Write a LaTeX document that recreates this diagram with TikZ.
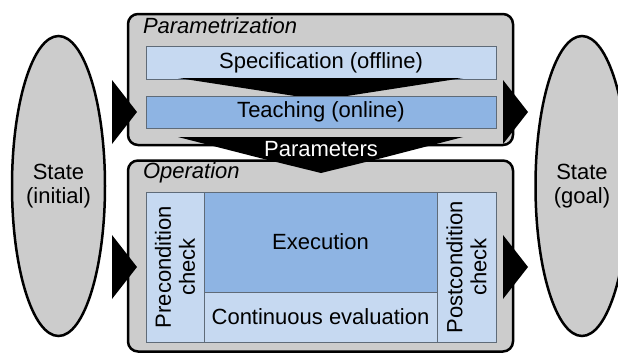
\documentclass[tikz,border=0pt]{standalone}
\usepackage{fontspec}
\setmainfont{Liberation Sans}
\usepackage{tikz}
\usetikzlibrary{shapes.geometric}
\definecolor{boxgray}{HTML}{CCCCCC}
\definecolor{lightblue}{HTML}{C6D9F1}
\definecolor{midblue}{HTML}{8EB4E3}
\definecolor{framegray}{HTML}{5F6B78}
\begin{document}
\begin{tikzpicture}
[x=1pt,y=-1pt,every node/.style={font=\fontsize{22}{24}\selectfont,inner sep=0pt,outer sep=0pt},
 phase/.style={draw=black,line width=2.5pt,fill=boxgray,rounded corners=10pt,minimum width=385pt},
 state/.style={ellipse,draw=black,line width=2.5pt,fill=boxgray,minimum width=93pt,minimum height=300pt,align=center},
 block/.style={draw=framegray,line width=0.8pt,fill=lightblue,align=center},
 wedge/.style={fill=black}]
\useasboundingbox (0,0) rectangle (618,354);
\clip (0,0) rectangle (618,354);
\node[state] (init) at (58.5,186) {State\\(initial)};
\node[state] (goal) at (582,186) {State\\(goal)};
\node[phase,minimum height=131pt] (para) at (320.5,79.5) {};
\node[phase,minimum height=191pt] (oper) at (320.5,256) {};
\node[anchor=base west] (paratitle) at (143,33) {\itshape Parametrization};
\node[anchor=base west] (opertitle) at (143,178) {\itshape Operation};
\node[block,minimum width=350pt,minimum height=33pt] (spec) at (321,62.5) {Specification (offline)};
\fill[wedge] (178,78) -- (463,78) -- (321,100) -- cycle;
\node[block,fill=midblue,minimum width=350pt,minimum height=32pt] (teach) at (321,112) {Teaching (online)};
\node[block,minimum width=58pt,minimum height=150pt] (pre) at (175,267) {};
\node[block,fill=midblue,minimum width=233pt,minimum height=100pt] (exec) at (320.5,242) {Execution};
\node[block,minimum width=233pt,minimum height=50pt] (eval) at (320.5,317) {Continuous evaluation};
\node[block,minimum width=59pt,minimum height=150pt] (post) at (466.5,267) {};
\node[rotate=90,align=center] (pretext) at (pre) {Precondition\\check};
\node[rotate=90,align=center] (posttext) at (post) {Postcondition\\check};
\fill[wedge] (178,137) -- (463,137) -- (382,158) -- (321,173) -- (260,158) -- cycle;
\node[text=white] (params) at (321,149) {Parameters};
\foreach \y in {112,267}
{
  \fill[wedge] (112,\y-32) -- (137,\y) -- (112,\y+32) -- cycle;
  \fill[wedge] (503,\y-32) -- (528,\y) -- (503,\y+32) -- cycle;
}
\end{tikzpicture}
\end{document}
